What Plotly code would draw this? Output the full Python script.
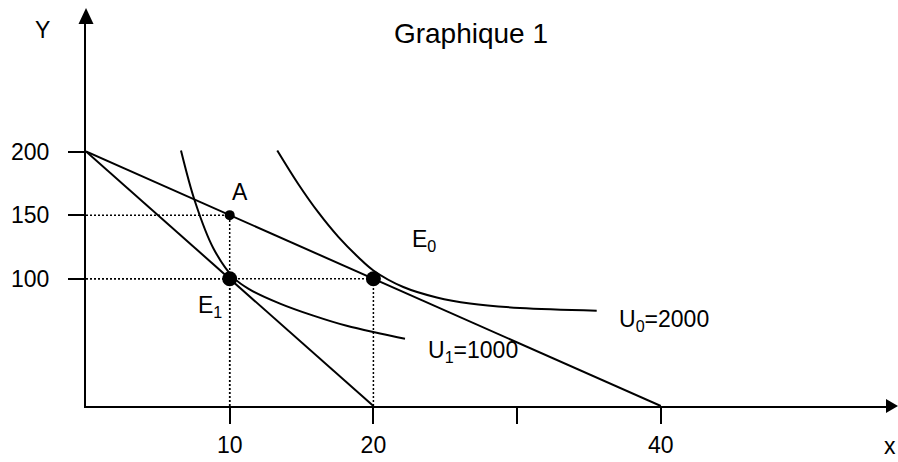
import plotly.graph_objects as go

# Budget lines (x, y) from the intercept on Y to the intercept on x
budget0_x = [0, 40]
budget0_y = [200, 0]
budget1_x = [0, 20]
budget1_y = [200, 0]

# Indifference curves
u0_x = [13.31, 14.77, 16.17, 17.56, 18.95, 20.0, 22.08, 24.41, 26.72, 30.2, 35.54]
u0_y = [200.8, 174.5, 152.1, 132.9, 116.9, 106.5, 93.5, 85.3, 80.5, 77.0, 74.9]
u1_x = [6.61, 7.59, 8.86, 10.3, 11.41, 13.5, 15.82, 18.14, 20.46, 22.2]
u1_y = [200.8, 160.5, 124.0, 100.5, 91.5, 80.5, 71.0, 63.0, 57.0, 52.8]

# Marked points
a_xy = (10, 150)
e1_xy = (10, 100)
e0_xy = (20, 100)

# Axis ticks
x_ticks = [10, 20, 30, 40]
x_tick_text = ["10", "20", "", "40"]
y_ticks = [100, 150, 200]
y_tick_text = ["100", "150", "200"]

FONT = "Liberation Sans, Arial, sans-serif"
BLACK = "#000000"
W, H = 898, 462
ML, MR, MT, MB = 86, 11, 23, 56
PW, PH = W - ML - MR, H - MT - MB

fig = go.Figure()

line_style = dict(color=BLACK, width=2)
dot_style = dict(color=BLACK, width=1.5, dash="2px,2px")

# Guide lines from the points to both axes
for (px, py) in (a_xy, e1_xy, e0_xy):
    fig.add_trace(go.Scatter(x=[0, px], y=[py, py], mode="lines", line=dot_style,
                             hoverinfo="skip", showlegend=False))
    fig.add_trace(go.Scatter(x=[px, px], y=[0, py], mode="lines", line=dot_style,
                             hoverinfo="skip", showlegend=False))

fig.add_trace(go.Scatter(x=budget0_x, y=budget0_y, mode="lines", line=line_style, showlegend=False))
fig.add_trace(go.Scatter(x=budget1_x, y=budget1_y, mode="lines", line=line_style, showlegend=False))
fig.add_trace(go.Scatter(x=u0_x, y=u0_y, mode="lines", line=dict(line_style, shape="spline"),
                         showlegend=False))
fig.add_trace(go.Scatter(x=u1_x, y=u1_y, mode="lines", line=dict(line_style, shape="spline"),
                         showlegend=False))

fig.add_trace(go.Scatter(x=[a_xy[0]], y=[a_xy[1]], mode="markers",
                         marker=dict(color=BLACK, size=10), showlegend=False))
fig.add_trace(go.Scatter(x=[e1_xy[0], e0_xy[0]], y=[e1_xy[1], e0_xy[1]], mode="markers",
                         marker=dict(color=BLACK, size=15), showlegend=False))

lab_font = dict(family=FONT, size=23, color=BLACK)


def label(text, x, y, dx, dy, anchor):
    fig.add_annotation(x=x, y=y, text=text, showarrow=False, xanchor=anchor,
                       yanchor="middle", xshift=dx, yshift=dy, font=lab_font)


label("A", a_xy[0], a_xy[1], 10, 23, "center")
label("E<sub>0</sub>", e0_xy[0], e0_xy[1], 37, 38, "left")
label("E<sub>1</sub>", e1_xy[0], e1_xy[1], -6, -28, "right")
label("U<sub>1</sub>=1000", u1_x[-1], u1_y[-1], 21, -13, "left")
label("U<sub>0</sub>=2000", u0_x[-1], u0_y[-1], 20, -10, "left")


def px_to_paper(px, py):
    return (px - ML) / PW, (H - MB - py) / PH


# Axis names
for text, (px, py) in (("Y", (42, 30)), ("x", (890, 446))):
    xp, yp = px_to_paper(px, py)
    fig.add_annotation(x=xp, y=yp, xref="paper", yref="paper", text=text, showarrow=False,
                       xanchor="center", yanchor="middle", font=lab_font)

# Arrowheads at the ends of both axes
def tri(p1, p2, p3):
    pts = [px_to_paper(*p) for p in (p1, p2, p3)]
    return "M{},{} L{},{} L{},{} Z".format(*[v for pt in pts for v in pt])


fig.add_shape(type="path", xref="paper", yref="paper",
              path=tri((ML, 8), (ML - 7.5, 24), (ML + 7.5, 24)),
              fillcolor=BLACK, line=dict(color=BLACK, width=0))
fig.add_shape(type="path", xref="paper", yref="paper",
              path=tri((898, H - MB), (886, H - MB - 7), (886, H - MB + 7)),
              fillcolor=BLACK, line=dict(color=BLACK, width=0))

x_max = PW / 14.37
y_max = PH / 1.2725

axis_common = dict(showgrid=False, zeroline=False, showline=True, linecolor=BLACK, linewidth=2,
                   ticks="outside", ticklen=16, tickwidth=2, tickcolor=BLACK, automargin=False,
                   tickfont=dict(family=FONT, size=23, color=BLACK), fixedrange=True)

fig.update_layout(
    width=W, height=H,
    margin=dict(l=ML, r=MR, t=MT, b=MB, pad=0, autoexpand=False),
    paper_bgcolor="white", plot_bgcolor="white",
    xaxis=dict(axis_common, range=[0, x_max], tickmode="array", tickvals=x_ticks,
               ticktext=x_tick_text, ticklabelstandoff=1),
    yaxis=dict(axis_common, range=[0, y_max], tickmode="array", tickvals=y_ticks,
               ticktext=y_tick_text, ticklabelstandoff=14),
    title=dict(text="Graphique 1", xref="container", yref="container",
               x=471 / W, y=1 - 33 / H, xanchor="center", yanchor="middle",
               font=dict(family=FONT, size=28, color=BLACK)),
    showlegend=False,
)

fig.write_html("out.html")
